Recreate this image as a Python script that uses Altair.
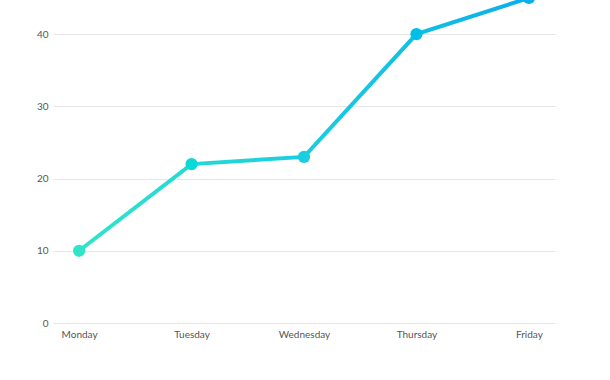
import altair as alt
import pandas as pd

days = ["Monday", "Tuesday", "Wednesday", "Thursday", "Friday"]
values = [10, 22, 23, 40, 45]
order = [0, 1, 2, 3, 4]

df = pd.DataFrame({"day": days, "value": values, "idx": order})

x = alt.X("day:N", sort=days, title=None,
          scale=alt.Scale(type="point", padding=0.232),
          axis=alt.Axis(labelAngle=0, ticks=False, domain=False, grid=False,
                        labelFont="Lato", labelFontSize=10, labelColor="#555555",
                        labelPadding=6))
y = alt.Y("value:Q", title=None,
          scale=alt.Scale(domain=[0, 44.72], nice=False),
          axis=alt.Axis(values=[0, 10, 20, 30, 40], ticks=False, domain=False,
                        gridColor="#e6e6e6", gridWidth=1,
                        labelFont="Lato", labelFontSize=10, labelColor="#555555",
                        labelPadding=5))

line = alt.Chart(df).mark_line(
    strokeWidth=4, clip=False,
    color=alt.Gradient(gradient="linear",
                       stops=[alt.GradientStop(color="#2ee5c9", offset=0),
                              alt.GradientStop(color="#1bcde0", offset=0.5),
                              alt.GradientStop(color="#0bafea", offset=1)],
                       x1=0, x2=1, y1=0, y2=0)
).encode(x=x, y=y)

points = alt.Chart(df).mark_circle(size=150, opacity=1, clip=False).encode(
    x=x, y=y,
    color=alt.Color("idx:Q", legend=None,
                    scale=alt.Scale(domain=[0, 2, 4],
                                    range=["#2ee5c9", "#1bcde0", "#0bafea"]))
)

chart = alt.layer(line, points).properties(
    width=502, height=323,
    autosize=alt.AutoSizeParams(type="none"),
    padding={"left": 53, "top": 0, "right": 55, "bottom": 57},
).configure_view(stroke=None)

chart.save("out.html", embed_options={"renderer": "svg", "actions": False})
